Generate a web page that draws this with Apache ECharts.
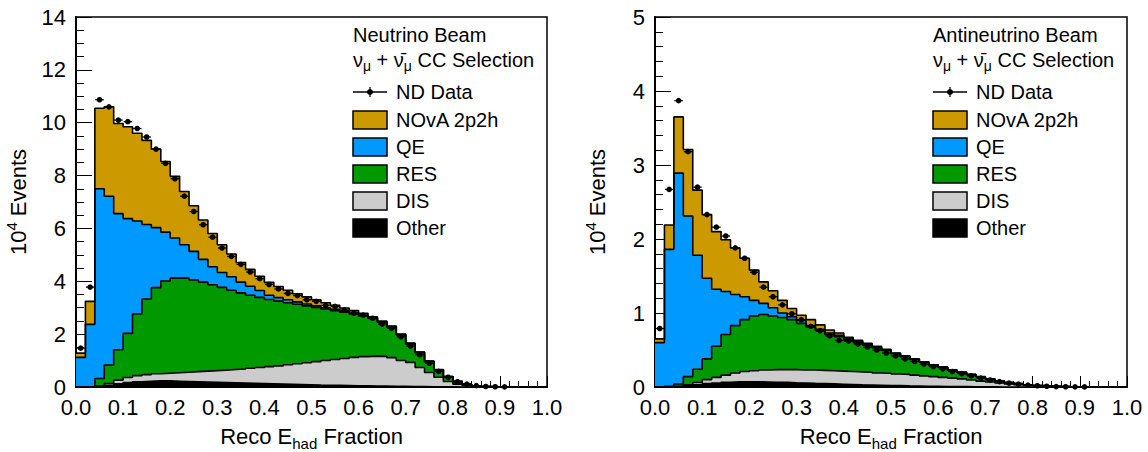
<!DOCTYPE html>
<html>
<head>
<meta charset="utf-8">
<script src="https://cdn.jsdelivr.net/npm/echarts@6/dist/echarts.min.js"></script>
<style>
  html, body { margin: 0; padding: 0; background: #fff; }
  #chart { width: 1148px; height: 452px; }
</style>
</head>
<body>
<div id="chart"></div>
<script>
// 50 bins of 0.02 in reco E_had fraction
const nBins = 50;
const binWidth = 0.02;

// ---- Neutrino beam (units of 10^4 events) ----
const nuOther = [0, 0, 0.02, 0.06, 0.12, 0.17, 0.20, 0.22, 0.23, 0.23, 0.22, 0.21, 0.20, 0.19, 0.18, 0.17, 0.16, 0.15, 0.14, 0.13,
  0.12, 0.11, 0.10, 0.09, 0.08, 0.07, 0.065, 0.06, 0.055, 0.05, 0.045, 0.04, 0.035, 0.03, 0.025, 0.02, 0.015, 0.01, 0.008, 0.005,
  0, 0, 0, 0, 0, 0, 0, 0, 0, 0];
const nuDIS = [0, 0, 0.02, 0.07, 0.14, 0.19, 0.23, 0.25, 0.27, 0.29, 0.32, 0.35, 0.38, 0.41, 0.44, 0.47, 0.50, 0.53, 0.57, 0.61,
  0.65, 0.69, 0.74, 0.79, 0.84, 0.89, 0.935, 0.98, 1.025, 1.07, 1.105, 1.13, 1.125, 1.08, 0.975, 0.91, 0.725, 0.54, 0.362, 0.205,
  0.11, 0.05, 0.02, 0.008, 0.003, 0, 0, 0, 0, 0];
const nuRES = [0, 0.02, 0.28, 0.70, 1.15, 1.67, 2.33, 2.86, 3.26, 3.49, 3.58, 3.56, 3.47, 3.37, 3.25, 3.13, 3.00, 2.88, 2.76, 2.65,
  2.54, 2.45, 2.35, 2.25, 2.15, 2.05, 1.95, 1.85, 1.75, 1.64, 1.54, 1.42, 1.29, 1.16, 0.97, 0.70, 0.56, 0.41, 0.28, 0.18,
  0.10, 0.05, 0.025, 0.01, 0.005, 0.003, 0.001, 0, 0, 0];
const nuQE = [1.12, 2.35, 7.18, 6.39, 5.15, 4.34, 3.52, 2.82, 2.27, 1.85, 1.52, 1.26, 1.08, 0.86, 0.68, 0.56, 0.51, 0.41, 0.34, 0.26,
  0.16, 0.13, 0.11, 0.09, 0.07, 0.06, 0.05, 0.05, 0.04, 0.04, 0.03, 0.03, 0.02, 0.02, 0.01, 0.01, 0.01, 0.01, 0.005, 0.005,
  0.003, 0.002, 0.001, 0, 0, 0, 0, 0, 0, 0];
const nu2p2h = [0.16, 0.87, 3.05, 3.38, 3.41, 3.48, 3.32, 3.18, 2.97, 2.67, 2.33, 2.02, 1.73, 1.49, 1.26, 1.05, 0.86, 0.74, 0.64, 0.54,
  0.49, 0.42, 0.36, 0.31, 0.27, 0.23, 0.19, 0.15, 0.12, 0.09, 0.07, 0.04, 0.03, 0.02, 0.02, 0.02, 0.01, 0.01, 0.005, 0.005,
  0.007, 0.003, 0.002, 0.002, 0.001, 0.001, 0.001, 0, 0, 0];
const nuData = [1.47, 3.78, 10.87, 10.60, 10.10, 10.04, 9.78, 9.46, 9.00, 8.46, 7.88, 7.22, 6.64, 6.14, 5.67, 5.26, 4.94, 4.64, 4.35, 4.10,
  3.88, 3.71, 3.54, 3.46, 3.30, 3.24, 3.09, 3.05, 2.91, 2.79, 2.72, 2.60, 2.38, 2.22, 1.90, 1.55, 1.22, 0.90, 0.59, 0.37,
  0.20, 0.11, 0.05, 0.02, 0.01, 0.005, null, null, null, null];

// ---- Antineutrino beam (units of 10^4 events) ----
const anuOther = [0, 0, 0.005, 0.015, 0.03, 0.045, 0.055, 0.065, 0.07, 0.07, 0.07, 0.068, 0.065, 0.062, 0.058, 0.055, 0.05, 0.046, 0.042, 0.038,
  0.034, 0.03, 0.027, 0.024, 0.021, 0.018, 0.015, 0.013, 0.011, 0.009, 0.007, 0.006, 0.005, 0.004, 0.003, 0.002, 0.001, 0, 0, 0,
  0, 0, 0, 0, 0, 0, 0, 0, 0, 0];
const anuDIS = [0, 0, 0.005, 0.015, 0.03, 0.055, 0.075, 0.095, 0.12, 0.14, 0.15, 0.162, 0.17, 0.173, 0.177, 0.175, 0.18, 0.179, 0.178, 0.177,
  0.176, 0.175, 0.173, 0.166, 0.164, 0.157, 0.155, 0.147, 0.139, 0.131, 0.123, 0.114, 0.105, 0.091, 0.077, 0.066, 0.054, 0.042, 0.031, 0.021,
  0.013, 0.008, 0.004, 0.002, 0.001, 0, 0, 0, 0, 0];
const anuRES = [0, 0.01, 0.03, 0.11, 0.18, 0.28, 0.42, 0.55, 0.64, 0.70, 0.74, 0.75, 0.725, 0.705, 0.675, 0.63, 0.58, 0.535, 0.49, 0.465,
  0.42, 0.395, 0.365, 0.34, 0.31, 0.275, 0.24, 0.212, 0.184, 0.155, 0.136, 0.107, 0.087, 0.073, 0.058, 0.041, 0.029, 0.017, 0.013, 0.009,
  0.007, 0.004, 0.004, 0.003, 0.002, 0.002, 0.001, 0, 0, 0];
const anuQE = [0.60, 1.85, 2.85, 2.17, 1.54, 1.09, 0.77, 0.58, 0.42, 0.31, 0.21, 0.15, 0.11, 0.06, 0.04, 0.04, 0.02, 0.02, 0.02, 0.02,
  0.02, 0.015, 0.013, 0.01, 0.008, 0.006, 0.005, 0.004, 0.003, 0.003, 0.002, 0.001, 0.001, 0.001, 0.001, 0.001, 0.001, 0.001, 0.001, 0,
  0, 0, 0, 0, 0, 0, 0, 0, 0, 0];
const anu2p2h = [0.05, 0.33, 0.76, 0.90, 0.88, 0.86, 0.78, 0.70, 0.63, 0.52, 0.41, 0.29, 0.23, 0.17, 0.11, 0.07, 0.08, 0.06, 0.04, 0.03,
  0.02, 0.015, 0.012, 0.01, 0.007, 0.004, 0.005, 0.004, 0.003, 0.002, 0.002, 0.002, 0.002, 0.001, 0.001, 0, 0, 0, 0, 0,
  0, 0, 0, 0, 0, 0, 0, 0, 0, 0];
const anuData = [0.79, 2.67, 3.87, 3.18, 2.70, 2.33, 2.16, 2.04, 1.88, 1.74, 1.55, 1.35, 1.22, 1.11, 0.99, 0.91, 0.82, 0.76, 0.69, 0.63,
  0.62, 0.58, 0.54, 0.50, 0.46, 0.42, 0.38, 0.345, 0.31, 0.275, 0.245, 0.21, 0.18, 0.15, 0.12, 0.095, 0.072, 0.052, 0.038, 0.026,
  0.017, 0.01, 0.006, 0.003, 0.002, 0.001, null, null, null, null];

const layerNames = ['Other', 'DIS', 'RES', 'QE', 'NOvA 2p2h'];
const layerColors = ['#000000', '#cccccc', '#009900', '#0099ff', '#cc9900'];

const FONT = 'Liberation Sans, Arial, Helvetica, sans-serif';

// ROOT-style THStack: each layer is drawn as the cumulative sum, filled down to zero
function cumulate(layers) {
  const out = [];
  let run = new Array(nBins).fill(0);
  layers.forEach(l => {
    run = run.map((r, i) => r + l[i]);
    out.push(run);
  });
  return out;
}

function stepData(vals) {
  const d = vals.map((v, i) => [i * binWidth, v]);
  d.push([nBins * binWidth, vals[nBins - 1]]);
  return d;
}

function stackSeries(layers, idx) {
  const cums = cumulate(layers);
  const list = [];
  for (let k = cums.length - 1; k >= 0; k--) {
    list.push({
      name: layerNames[k],
      type: 'line',
      xAxisIndex: idx,
      yAxisIndex: idx,
      step: 'end',
      showSymbol: false,
      silent: true,
      data: stepData(cums[k]),
      lineStyle: {color: '#000', width: 1.6},
      areaStyle: {color: layerColors[k], opacity: 1}
    });
  }
  return list;
}

function dataSeries(vals, idx) {
  const pts = [];
  vals.forEach((v, i) => {
    if (v !== null) pts.push([(i + 0.5) * binWidth, v]);
  });
  return {
    name: 'ND Data',
    type: 'custom',
    xAxisIndex: idx,
    yAxisIndex: idx,
    z: 5,
    silent: true,
    data: pts,
    renderItem: function (params, api) {
      const c = api.value(0), v = api.value(1);
      const p = api.coord([c, v]);
      const a = api.coord([c - binWidth / 2, v]);
      const b = api.coord([c + binWidth / 2, v]);
      return {
        type: 'group',
        children: [
          {type: 'line', shape: {x1: a[0] + 0.5, y1: p[1], x2: b[0] - 0.5, y2: p[1]}, style: {stroke: '#000', lineWidth: 1.3}},
          {type: 'circle', shape: {cx: p[0], cy: p[1], r: 2.8}, style: {fill: '#000'}}
        ]
      };
    }
  };
}

function xAxisOpt(idx) {
  return {
    type: 'value', gridIndex: idx, min: 0, max: 1, interval: 0.1,
    name: '{n|Reco E}{s|had}{n| Fraction}',
    nameLocation: 'middle', nameGap: 34,
    nameTextStyle: {
      color: '#000', fontFamily: FONT,
      rich: {
        n: {fontSize: 22, fontFamily: FONT, color: '#000'},
        s: {fontSize: 15, fontFamily: FONT, color: '#000', padding: [15, 0, 0, 0]}
      }
    },
    axisLine: {show: true, onZero: false, lineStyle: {color: '#000', width: 2}},
    axisTick: {show: true, inside: true, length: 11, lineStyle: {color: '#000', width: 1}},
    minorTick: {show: true, splitNumber: 5, length: 6, lineStyle: {color: '#000', width: 1}},
    axisLabel: {
      color: '#000', fontSize: 22, fontFamily: FONT, margin: 9,
      showMinLabel: true, showMaxLabel: true,
      formatter: v => v.toFixed(1)
    },
    splitLine: {show: false}
  };
}

function yAxisOpt(idx, max, interval, minorSplit) {
  return {
    type: 'value', gridIndex: idx, min: 0, max: max, interval: interval,
    name: '{n|10}{p|4}{n| Events}',
    nameLocation: 'middle', nameGap: 44,
    nameTextStyle: {
      color: '#000', fontFamily: FONT,
      rich: {
        n: {fontSize: 22, fontFamily: FONT, color: '#000'},
        p: {fontSize: 15, fontFamily: FONT, color: '#000', padding: [0, 0, 13, 0]}
      }
    },
    axisLine: {show: true, onZero: false, lineStyle: {color: '#000', width: 2}},
    axisTick: {show: true, inside: true, length: 16, lineStyle: {color: '#000', width: 1}},
    minorTick: {show: true, splitNumber: minorSplit, length: 8, lineStyle: {color: '#000', width: 1}},
    axisLabel: {color: '#000', fontSize: 22, fontFamily: FONT, margin: 10, showMinLabel: true, showMaxLabel: true},
    splitLine: {show: false}
  };
}

// legend drawn as graphics, one block per panel
function legendBlock(x0, title) {
  const els = [];
  const txt = (x, y, t, rich) => ({
    type: 'text', x: x, y: y, silent: true,
    style: {text: t, fontSize: 20, fontFamily: FONT, fill: '#000', verticalAlign: 'middle', align: 'left', rich: rich}
  });
  els.push(txt(x0, 35, title));
  els.push(txt(x0, 60, '{n|ν}{s|μ}{n| + ν\u0304}{s|μ}{n| CC Selection}', {
    n: {fontSize: 20, fontFamily: FONT, fill: '#000'},
    s: {fontSize: 14, fontFamily: FONT, fill: '#000', padding: [12, 0, 0, 0]}
  }));
  // ND Data symbol
  els.push({type: 'line', silent: true, shape: {x1: x0, y1: 92, x2: x0 + 34, y2: 92}, style: {stroke: '#000', lineWidth: 1.5}});
  els.push({type: 'line', silent: true, shape: {x1: x0 + 17, y1: 87, x2: x0 + 17, y2: 97}, style: {stroke: '#000', lineWidth: 1.2}});
  els.push({type: 'circle', silent: true, shape: {cx: x0 + 17, cy: 92, r: 3}, style: {fill: '#000'}});
  els.push(txt(x0 + 43, 92, 'ND Data'));
  const order = [4, 3, 2, 1, 0];
  order.forEach((k, j) => {
    const y = 120 + j * 27;
    els.push({
      type: 'rect', silent: true, shape: {x: x0, y: y - 9, width: 34, height: 18},
      style: {fill: layerColors[k], stroke: '#000', lineWidth: 1.5}
    });
    els.push(txt(x0 + 43, y, layerNames[k]));
  });
  return els;
}

const chart = echarts.init(document.getElementById('chart'), null, {renderer: 'svg'});

chart.setOption({
  animation: false,
  backgroundColor: '#fff',
  textStyle: {fontFamily: FONT},
  grid: [
    {left: 76, top: 17, width: 471, height: 370, outerBoundsMode: 'none', containLabel: false,
      show: true, borderColor: '#000', borderWidth: 1.5, backgroundColor: 'transparent'},
    {left: 655, top: 17, width: 472, height: 370, outerBoundsMode: 'none', containLabel: false,
      show: true, borderColor: '#000', borderWidth: 1.5, backgroundColor: 'transparent'}
  ],
  xAxis: [xAxisOpt(0), xAxisOpt(1)],
  yAxis: [yAxisOpt(0, 14, 2, 4), yAxisOpt(1, 5, 1, 5)],
  series: [
    ...stackSeries([nuOther, nuDIS, nuRES, nuQE, nu2p2h], 0),
    dataSeries(nuData, 0),
    ...stackSeries([anuOther, anuDIS, anuRES, anuQE, anu2p2h], 1),
    dataSeries(anuData, 1)
  ],
  graphic: [
    ...legendBlock(353, 'Neutrino Beam'),
    ...legendBlock(933, 'Antineutrino Beam')
  ]
});
</script>
</body>
</html>
